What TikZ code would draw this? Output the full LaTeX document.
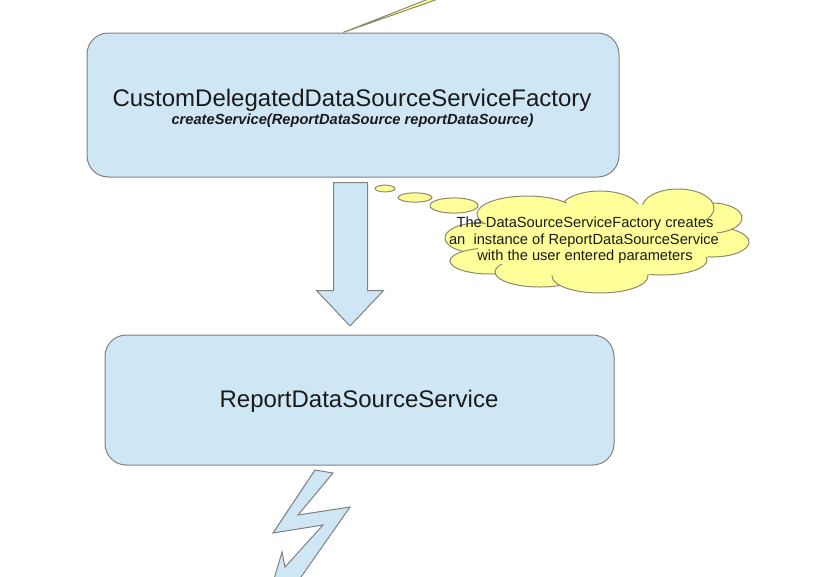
\documentclass[tikz,border=0pt]{standalone}
\usepackage{fontspec}
\setmainfont{Liberation Sans}
\usetikzlibrary{shapes.geometric}
\definecolor{boxblue}{HTML}{CFE7F5}
\definecolor{boxline}{HTML}{808080}
\definecolor{cloudyellow}{HTML}{FFFF99}
\definecolor{cloudline}{HTML}{8A8A6A}
\definecolor{txt}{HTML}{1A1A1A}
\tikzset{
  bluebox/.style={draw=boxline, line width=0.75pt, fill=boxblue, rounded corners=16pt, inner sep=0pt},
  blueshape/.style={draw=boxline, line width=0.75pt, fill=boxblue, line join=miter},
  yellowshape/.style={draw=cloudline, line width=0.75pt, fill=cloudyellow},
  bigtext/.style={font=\fontsize{18}{21}\selectfont, text=txt, inner sep=0pt, anchor=base},
  cloudtext/.style={font=\fontsize{11}{13}\selectfont, text=txt, inner sep=0pt, anchor=base},
}
\begin{document}
\begin{tikzpicture}[x=0.75pt,y=-0.75pt]
\useasboundingbox (0,0) rectangle (816,576);
\clip (0,0) rectangle (816,576);
% boxes
\node[bluebox, minimum width=399pt, minimum height=108pt] (factory) at (353,105) {};
\node[bluebox, minimum width=381.75pt, minimum height=97.5pt] (service) at (359.5,400) {};
\node[bigtext] (factorytitle) at (352,106) {CustomDelegatedDataSourceServiceFactory};
\node[cloudtext, font=\fontsize{11}{13}\selectfont\bfseries\itshape] (factorymethod) at (352.5,124.5) {createService(ReportDataSource reportDataSource)};
\node[bigtext] (servicetitle) at (359,407) {ReportDataSourceService};
% block arrow between boxes
\draw[blueshape] (333.5,182.5) -- (367.5,182.5) -- (367.5,290.5) -- (383.5,290.5) -- (350,326) -- (316.5,290.5) -- (333.5,290.5) -- cycle;
% lightning bolt
\draw[blueshape] (315,470) -- (333,473) -- (298,515) -- (350,507) -- (255.5,642) -- (282,552) -- (285,567) -- (323,525) -- (273,533) -- cycle;
% callout pointer at top
\draw[yellowshape, line join=miter] (343,32.5) -- (431,-2) -- (441,-2) -- cycle;
% thought bubbles
\draw[yellowshape] (385,188.5) ellipse [x radius=10, y radius=3.4];
\draw[yellowshape] (415,197.5) ellipse [x radius=17, y radius=4.6];
\draw[yellowshape] (454,205.5) ellipse [x radius=24, y radius=7.6];
% cloud lobes
\foreach \cx/\cy/\rx/\ry in {478/238/33/15, 490/261/40/13, 540/272/45/15, 600/276/48/17, 662/260/45/15, 712/242/37/15, 712/218/30/15, 678/208/36/19, 600/210/40/19, 527/214/50/18}{
  \draw[yellowshape] (\cx,\cy) ellipse [x radius=\rx, y radius=\ry];
}
\fill[cloudyellow] (597,240) ellipse [x radius=122, y radius=38];
\node[cloudtext] (cloud1) at (585,227) {The DataSourceServiceFactory creates};
\node[cloudtext] (cloud2) at (584,244) {an\ \ instance of ReportDataSourceService};
\node[cloudtext] (cloud3) at (585,260) {with the user entered parameters};
\end{tikzpicture}
\end{document}
